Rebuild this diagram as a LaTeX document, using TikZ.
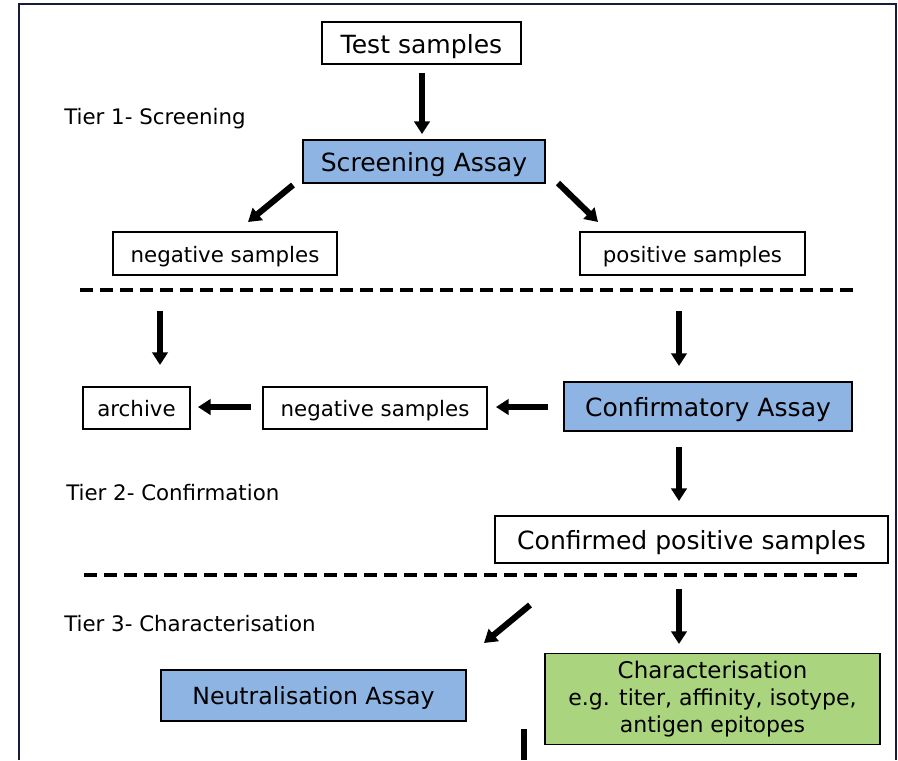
\documentclass[tikz,border=0pt]{standalone}
\usepackage{fontspec}
\setmainfont{DejaVu Sans}
\usetikzlibrary{arrows.meta}
\definecolor{frameblue}{RGB}{22,28,58}
\definecolor{assayblue}{RGB}{141,180,226}
\definecolor{charzgreen}{RGB}{170,213,126}
\begin{document}
\begin{tikzpicture}[x=0.75pt,y=-0.75pt,
  box/.style 2 args={draw=black, line width=1.4pt, inner sep=0pt, anchor=center,
    minimum width=#1*0.75pt, minimum height=#2*0.75pt},
  onerow/.style={text height=#1, text depth=0pt},
  bigfont/.style={font=\fontsize{18.8}{22}\selectfont, onerow=15pt},
  smallfont/.style={font=\fontsize{16}{19}\selectfont, onerow=12.8pt},
  bluebox/.style={fill=assayblue},
  bigarrow/.style={-{Triangle[width=11.5pt,length=9.5pt]}, line width=4.6pt, black},
  stub/.style={line width=4.6pt, black},
  sep/.style={line width=3pt, dash pattern=on 9.75pt off 5.25pt},
  tier/.style={anchor=base west, inner sep=0pt, font=\fontsize{16}{19}\selectfont}]
\useasboundingbox (0,0) rectangle (898,760);
\fill[white] (0,0) rectangle (898,760);
% frame
\draw[frameblue, line width=2pt] (19,760) -- (19,4) -- (896,4) -- (896,760);

% nodes
\node[box={199}{42}, bigfont] (test) at (421.5,43) {Test samples};
\node[box={242}{43}, bigfont, bluebox] (screen) at (424,161.5) {Screening Assay};
\node[box={224}{43}, smallfont] (neg1) at (225,253.5) {negative samples};
\node[box={225}{43}, smallfont] (pos1) at (692.5,253.5) {positive samples};
\node[box={107}{42}, smallfont] (archive) at (136.5,408) {archive};
\node[box={224}{42}, smallfont] (neg2) at (375,408) {negative samples};
\node[box={288}{49}, bigfont, bluebox] (confirm) at (708,406.5) {Confirmatory Assay};
\node[box={393}{47}, bigfont] (confpos) at (691.5,539.5) {Confirmed positive samples};
\node[box={305}{51}, font=\fontsize{17.7}{21}\selectfont, onerow=14.2pt, bluebox] (neutral) at (313.5,695.5) {Neutralisation Assay};
\node[box={335}{91}, fill=charzgreen, align=center, font=\fontsize{16.5}{20.3}\selectfont] (charz) at (712.5,699)
  {{\fontsize{17.2}{20.3}\selectfont Characterisation}\\e.g. titer, affinity, isotype,\\antigen epitopes};

% tier labels
\node[tier] (t1) at (64,124) {Tier 1- Screening};
\node[tier] (t2) at (66,500) {Tier 2- Confirmation};
\node[tier] (t3) at (64,631) {Tier 3- Characterisation};

% separators
\coordinate (s1a) at (80,290); \coordinate (s1b) at (858,290);
\coordinate (s2a) at (84,575); \coordinate (s2b) at (858,575);
\draw[sep] (s1a) -- (s1b);
\draw[sep] (s2a) -- (s2b);

% arrow guide points
\coordinate (a1x) at (422,0);
\coordinate (a7y) at (0,407);
\coordinate (a2s) at (293,185); \coordinate (a2e) at (248,222);
\coordinate (a3s) at (558,183); \coordinate (a3e) at (598,222);
\coordinate (a4s) at (160,311); \coordinate (a4e) at (160,365);
\coordinate (a5s) at (679,311); \coordinate (a5e) at (679,366);
\coordinate (a9s) at (530,605); \coordinate (a9e) at (484,643);
\coordinate (a10s) at (679,589); \coordinate (a10e) at (679,644);
\coordinate (a11s) at (524,729); \coordinate (a11e) at (524,760);

\draw[bigarrow, shorten <=8pt*0.75, shorten >=5pt*0.75] (test.south -| a1x) -- (screen.north -| a1x);
\draw[bigarrow] (a2s) -- (a2e);
\draw[bigarrow] (a3s) -- (a3e);
\draw[bigarrow] (a4s) -- (a4e);
\draw[bigarrow] (a5s) -- (a5e);
\draw[bigarrow, shorten <=11pt*0.75, shorten >=7pt*0.75] (neg2.west |- a7y) -- (archive.east |- a7y);
\draw[bigarrow, shorten <=15pt*0.75, shorten >=8pt*0.75] (confirm.west |- a7y) -- (neg2.east |- a7y);
\draw[bigarrow, shorten <=15pt*0.75, shorten >=14pt*0.75] (confirm.south -| a5s) -- (confpos.north -| a5s);
\draw[bigarrow] (a9s) -- (a9e);
\draw[bigarrow] (a10s) -- (a10e);
\draw[stub] (a11s) -- (a11e);
\end{tikzpicture}
\end{document}
